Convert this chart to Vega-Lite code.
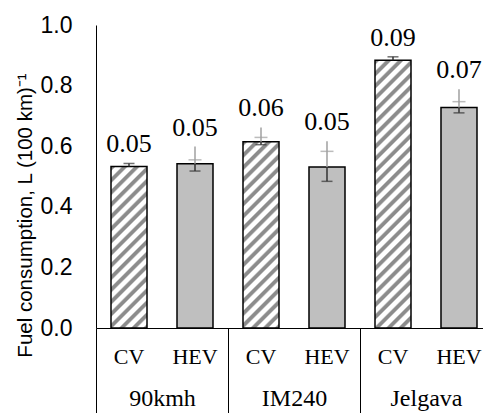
{
"$schema": "https://vega.github.io/schema/vega-lite/v6.json",
"autosize": "none",
"padding": {"left": 96, "top": 25, "right": 0, "bottom": 85},
"width": 387,
"height": 303,
"background": "white",
"config": {"view": {"stroke": null}, "mark": {"font": "Liberation Serif"}, "text": {"font": "Liberation Serif"}, "style": {"vlabel": {"font": "Liberation Serif", "fontSize": 26}}},
"data": {"values": [
{"group":"90kmh","type":"CV","key":"90kmh|CV","v":0.533,"blo":0.533,"bhi":0.543,"bcap":0.543,"top":0.543,"label":"0.05"},
{"group":"90kmh","type":"HEV","key":"90kmh|HEV","v":0.542,"blo":0.518,"bhi":0.542,"bcap":0.518,"glo":0.542,"ghi":0.599,"gcap":0.555,"top":0.599,"label":"0.05"},
{"group":"IM240","type":"CV","key":"IM240|CV","v":0.615,"blo":0.605,"bhi":0.615,"bcap":0.605,"glo":0.615,"ghi":0.662,"gcap":0.629,"top":0.662,"label":"0.06"},
{"group":"IM240","type":"HEV","key":"IM240|HEV","v":0.531,"blo":0.484,"bhi":0.531,"bcap":0.484,"glo":0.531,"ghi":0.616,"gcap":0.583,"top":0.616,"label":"0.05"},
{"group":"Jelgava","type":"CV","key":"Jelgava|CV","v":0.884,"blo":0.884,"bhi":0.895,"bcap":0.895,"top":0.895,"label":"0.09"},
{"group":"Jelgava","type":"HEV","key":"Jelgava|HEV","v":0.728,"blo":0.710,"bhi":0.728,"bcap":0.710,"glo":0.728,"ghi":0.788,"gcap":0.747,"top":0.788,"label":"0.07"}
]},
"encoding": {
  "y": {"field": "v", "type": "quantitative",
    "scale": {"domain": [0, 1], "nice": false, "zero": true},
    "axis": {"title": "Fuel consumption, L (100 km)⁻¹", "values": [0, 0.2, 0.4, 0.6, 0.8, 1.0], "format": ".1f",
      "grid": false, "ticks": false, "domain": true, "domainColor": "#000000", "domainWidth": 1,
      "labelFont": "Liberation Sans", "labelFontSize": 23, "labelColor": "#000000", "labelPadding": 24,
      "titleFont": "Liberation Sans", "titleFontSize": 20.5, "titleFontWeight": "normal", "titleColor": "#000000",
      "titleX": -65, "titleY": 190, "titleAngle": -90, "titleAnchor": "middle", "titleAlign": "center", "titleBaseline": "alphabetic"}}
},
"layer": [
  {
    "encoding": {
      "x": {"field": "key", "type": "nominal",
        "scale": {"domain": ["90kmh|CV","90kmh|HEV","IM240|CV","IM240|HEV","Jelgava|CV","Jelgava|HEV"], "range": [0, 396], "paddingInner": 0.4545, "paddingOuter": 0.2273},
        "axis": {"orient": "bottom", "title": null, "labelExpr": "split(datum.value, '|')[1]", "labelAngle": 0,
          "ticks": false, "domain": true, "domainColor": "#000000", "domainWidth": 1,
          "labelFont": "Liberation Serif", "labelFontSize": 22, "labelColor": "#000000", "labelPadding": 28, "labelBaseline": "middle"}}
    },
    "layer": [
      {"mark": {"type": "bar", "stroke": "#000000", "strokeWidth": 1.5},
       "encoding": {
         "y": {"field": "v", "type": "quantitative"},
         "fill": {"condition": [
           {"test": "datum.key === '90kmh|CV'", "value": {"gradient": "linear", "x1": 0, "y1": 0, "x2": 0.3997, "y2": 1.7933, "stops": [
{"offset":0,"color":"#8c8c8c"},{"offset":0.012,"color":"#8c8c8c"},{"offset":0.018,"color":"#ffffff"},{"offset":0.034,"color":"#ffffff"},
{"offset":0.04,"color":"#8c8c8c"},{"offset":0.052,"color":"#8c8c8c"},{"offset":0.058,"color":"#ffffff"},{"offset":0.074,"color":"#ffffff"},
{"offset":0.08,"color":"#8c8c8c"},{"offset":0.092,"color":"#8c8c8c"},{"offset":0.098,"color":"#ffffff"},{"offset":0.114,"color":"#ffffff"},
{"offset":0.12,"color":"#8c8c8c"},{"offset":0.132,"color":"#8c8c8c"},{"offset":0.138,"color":"#ffffff"},{"offset":0.154,"color":"#ffffff"},
{"offset":0.16,"color":"#8c8c8c"},{"offset":0.172,"color":"#8c8c8c"},{"offset":0.178,"color":"#ffffff"},{"offset":0.194,"color":"#ffffff"},
{"offset":0.2,"color":"#8c8c8c"},{"offset":0.212,"color":"#8c8c8c"},{"offset":0.218,"color":"#ffffff"},{"offset":0.234,"color":"#ffffff"},
{"offset":0.24,"color":"#8c8c8c"},{"offset":0.252,"color":"#8c8c8c"},{"offset":0.258,"color":"#ffffff"},{"offset":0.274,"color":"#ffffff"},
{"offset":0.28,"color":"#8c8c8c"},{"offset":0.292,"color":"#8c8c8c"},{"offset":0.298,"color":"#ffffff"},{"offset":0.314,"color":"#ffffff"},
{"offset":0.32,"color":"#8c8c8c"},{"offset":0.332,"color":"#8c8c8c"},{"offset":0.338,"color":"#ffffff"},{"offset":0.354,"color":"#ffffff"},
{"offset":0.36,"color":"#8c8c8c"},{"offset":0.372,"color":"#8c8c8c"},{"offset":0.378,"color":"#ffffff"},{"offset":0.394,"color":"#ffffff"},
{"offset":0.4,"color":"#8c8c8c"},{"offset":0.412,"color":"#8c8c8c"},{"offset":0.418,"color":"#ffffff"},{"offset":0.434,"color":"#ffffff"},
{"offset":0.44,"color":"#8c8c8c"},{"offset":0.452,"color":"#8c8c8c"},{"offset":0.458,"color":"#ffffff"},{"offset":0.474,"color":"#ffffff"},
{"offset":0.48,"color":"#8c8c8c"},{"offset":0.492,"color":"#8c8c8c"},{"offset":0.498,"color":"#ffffff"},{"offset":0.514,"color":"#ffffff"},
{"offset":0.52,"color":"#8c8c8c"},{"offset":0.532,"color":"#8c8c8c"},{"offset":0.538,"color":"#ffffff"},{"offset":0.554,"color":"#ffffff"},
{"offset":0.56,"color":"#8c8c8c"},{"offset":0.572,"color":"#8c8c8c"},{"offset":0.578,"color":"#ffffff"},{"offset":0.594,"color":"#ffffff"},
{"offset":0.6,"color":"#8c8c8c"},{"offset":0.612,"color":"#8c8c8c"},{"offset":0.618,"color":"#ffffff"},{"offset":0.634,"color":"#ffffff"},
{"offset":0.64,"color":"#8c8c8c"},{"offset":0.652,"color":"#8c8c8c"},{"offset":0.658,"color":"#ffffff"},{"offset":0.674,"color":"#ffffff"},
{"offset":0.68,"color":"#8c8c8c"},{"offset":0.692,"color":"#8c8c8c"},{"offset":0.698,"color":"#ffffff"},{"offset":0.714,"color":"#ffffff"},
{"offset":0.72,"color":"#8c8c8c"},{"offset":0.732,"color":"#8c8c8c"},{"offset":0.738,"color":"#ffffff"},{"offset":0.754,"color":"#ffffff"},
{"offset":0.76,"color":"#8c8c8c"},{"offset":0.772,"color":"#8c8c8c"},{"offset":0.778,"color":"#ffffff"},{"offset":0.794,"color":"#ffffff"},
{"offset":0.8,"color":"#8c8c8c"},{"offset":0.812,"color":"#8c8c8c"},{"offset":0.818,"color":"#ffffff"},{"offset":0.834,"color":"#ffffff"},
{"offset":0.84,"color":"#8c8c8c"},{"offset":0.852,"color":"#8c8c8c"},{"offset":0.858,"color":"#ffffff"},{"offset":0.874,"color":"#ffffff"},
{"offset":0.88,"color":"#8c8c8c"},{"offset":0.892,"color":"#8c8c8c"},{"offset":0.898,"color":"#ffffff"},{"offset":0.914,"color":"#ffffff"},
{"offset":0.92,"color":"#8c8c8c"},{"offset":0.932,"color":"#8c8c8c"},{"offset":0.938,"color":"#ffffff"},{"offset":0.954,"color":"#ffffff"},
{"offset":0.96,"color":"#8c8c8c"},{"offset":0.972,"color":"#8c8c8c"},{"offset":0.978,"color":"#ffffff"},{"offset":0.994,"color":"#ffffff"},
{"offset":1,"color":"#8c8c8c"}]}},
           {"test": "datum.key === 'IM240|CV'", "value": {"gradient": "linear", "x1": 0, "y1": 0, "x2": 0.3040, "y2": 1.5730, "stops": [
{"offset":0,"color":"#8c8c8c"},{"offset":0.012,"color":"#8c8c8c"},{"offset":0.018,"color":"#ffffff"},{"offset":0.034,"color":"#ffffff"},
{"offset":0.04,"color":"#8c8c8c"},{"offset":0.052,"color":"#8c8c8c"},{"offset":0.058,"color":"#ffffff"},{"offset":0.074,"color":"#ffffff"},
{"offset":0.08,"color":"#8c8c8c"},{"offset":0.092,"color":"#8c8c8c"},{"offset":0.098,"color":"#ffffff"},{"offset":0.114,"color":"#ffffff"},
{"offset":0.12,"color":"#8c8c8c"},{"offset":0.132,"color":"#8c8c8c"},{"offset":0.138,"color":"#ffffff"},{"offset":0.154,"color":"#ffffff"},
{"offset":0.16,"color":"#8c8c8c"},{"offset":0.172,"color":"#8c8c8c"},{"offset":0.178,"color":"#ffffff"},{"offset":0.194,"color":"#ffffff"},
{"offset":0.2,"color":"#8c8c8c"},{"offset":0.212,"color":"#8c8c8c"},{"offset":0.218,"color":"#ffffff"},{"offset":0.234,"color":"#ffffff"},
{"offset":0.24,"color":"#8c8c8c"},{"offset":0.252,"color":"#8c8c8c"},{"offset":0.258,"color":"#ffffff"},{"offset":0.274,"color":"#ffffff"},
{"offset":0.28,"color":"#8c8c8c"},{"offset":0.292,"color":"#8c8c8c"},{"offset":0.298,"color":"#ffffff"},{"offset":0.314,"color":"#ffffff"},
{"offset":0.32,"color":"#8c8c8c"},{"offset":0.332,"color":"#8c8c8c"},{"offset":0.338,"color":"#ffffff"},{"offset":0.354,"color":"#ffffff"},
{"offset":0.36,"color":"#8c8c8c"},{"offset":0.372,"color":"#8c8c8c"},{"offset":0.378,"color":"#ffffff"},{"offset":0.394,"color":"#ffffff"},
{"offset":0.4,"color":"#8c8c8c"},{"offset":0.412,"color":"#8c8c8c"},{"offset":0.418,"color":"#ffffff"},{"offset":0.434,"color":"#ffffff"},
{"offset":0.44,"color":"#8c8c8c"},{"offset":0.452,"color":"#8c8c8c"},{"offset":0.458,"color":"#ffffff"},{"offset":0.474,"color":"#ffffff"},
{"offset":0.48,"color":"#8c8c8c"},{"offset":0.492,"color":"#8c8c8c"},{"offset":0.498,"color":"#ffffff"},{"offset":0.514,"color":"#ffffff"},
{"offset":0.52,"color":"#8c8c8c"},{"offset":0.532,"color":"#8c8c8c"},{"offset":0.538,"color":"#ffffff"},{"offset":0.554,"color":"#ffffff"},
{"offset":0.56,"color":"#8c8c8c"},{"offset":0.572,"color":"#8c8c8c"},{"offset":0.578,"color":"#ffffff"},{"offset":0.594,"color":"#ffffff"},
{"offset":0.6,"color":"#8c8c8c"},{"offset":0.612,"color":"#8c8c8c"},{"offset":0.618,"color":"#ffffff"},{"offset":0.634,"color":"#ffffff"},
{"offset":0.64,"color":"#8c8c8c"},{"offset":0.652,"color":"#8c8c8c"},{"offset":0.658,"color":"#ffffff"},{"offset":0.674,"color":"#ffffff"},
{"offset":0.68,"color":"#8c8c8c"},{"offset":0.692,"color":"#8c8c8c"},{"offset":0.698,"color":"#ffffff"},{"offset":0.714,"color":"#ffffff"},
{"offset":0.72,"color":"#8c8c8c"},{"offset":0.732,"color":"#8c8c8c"},{"offset":0.738,"color":"#ffffff"},{"offset":0.754,"color":"#ffffff"},
{"offset":0.76,"color":"#8c8c8c"},{"offset":0.772,"color":"#8c8c8c"},{"offset":0.778,"color":"#ffffff"},{"offset":0.794,"color":"#ffffff"},
{"offset":0.8,"color":"#8c8c8c"},{"offset":0.812,"color":"#8c8c8c"},{"offset":0.818,"color":"#ffffff"},{"offset":0.834,"color":"#ffffff"},
{"offset":0.84,"color":"#8c8c8c"},{"offset":0.852,"color":"#8c8c8c"},{"offset":0.858,"color":"#ffffff"},{"offset":0.874,"color":"#ffffff"},
{"offset":0.88,"color":"#8c8c8c"},{"offset":0.892,"color":"#8c8c8c"},{"offset":0.898,"color":"#ffffff"},{"offset":0.914,"color":"#ffffff"},
{"offset":0.92,"color":"#8c8c8c"},{"offset":0.932,"color":"#8c8c8c"},{"offset":0.938,"color":"#ffffff"},{"offset":0.954,"color":"#ffffff"},
{"offset":0.96,"color":"#8c8c8c"},{"offset":0.972,"color":"#8c8c8c"},{"offset":0.978,"color":"#ffffff"},{"offset":0.994,"color":"#ffffff"},
{"offset":1,"color":"#8c8c8c"}]}},
           {"test": "datum.key === 'Jelgava|CV'", "value": {"gradient": "linear", "x1": 0, "y1": 0, "x2": 0.1498, "y2": 1.1146, "stops": [
{"offset":0,"color":"#8c8c8c"},{"offset":0.012,"color":"#8c8c8c"},{"offset":0.018,"color":"#ffffff"},{"offset":0.034,"color":"#ffffff"},
{"offset":0.04,"color":"#8c8c8c"},{"offset":0.052,"color":"#8c8c8c"},{"offset":0.058,"color":"#ffffff"},{"offset":0.074,"color":"#ffffff"},
{"offset":0.08,"color":"#8c8c8c"},{"offset":0.092,"color":"#8c8c8c"},{"offset":0.098,"color":"#ffffff"},{"offset":0.114,"color":"#ffffff"},
{"offset":0.12,"color":"#8c8c8c"},{"offset":0.132,"color":"#8c8c8c"},{"offset":0.138,"color":"#ffffff"},{"offset":0.154,"color":"#ffffff"},
{"offset":0.16,"color":"#8c8c8c"},{"offset":0.172,"color":"#8c8c8c"},{"offset":0.178,"color":"#ffffff"},{"offset":0.194,"color":"#ffffff"},
{"offset":0.2,"color":"#8c8c8c"},{"offset":0.212,"color":"#8c8c8c"},{"offset":0.218,"color":"#ffffff"},{"offset":0.234,"color":"#ffffff"},
{"offset":0.24,"color":"#8c8c8c"},{"offset":0.252,"color":"#8c8c8c"},{"offset":0.258,"color":"#ffffff"},{"offset":0.274,"color":"#ffffff"},
{"offset":0.28,"color":"#8c8c8c"},{"offset":0.292,"color":"#8c8c8c"},{"offset":0.298,"color":"#ffffff"},{"offset":0.314,"color":"#ffffff"},
{"offset":0.32,"color":"#8c8c8c"},{"offset":0.332,"color":"#8c8c8c"},{"offset":0.338,"color":"#ffffff"},{"offset":0.354,"color":"#ffffff"},
{"offset":0.36,"color":"#8c8c8c"},{"offset":0.372,"color":"#8c8c8c"},{"offset":0.378,"color":"#ffffff"},{"offset":0.394,"color":"#ffffff"},
{"offset":0.4,"color":"#8c8c8c"},{"offset":0.412,"color":"#8c8c8c"},{"offset":0.418,"color":"#ffffff"},{"offset":0.434,"color":"#ffffff"},
{"offset":0.44,"color":"#8c8c8c"},{"offset":0.452,"color":"#8c8c8c"},{"offset":0.458,"color":"#ffffff"},{"offset":0.474,"color":"#ffffff"},
{"offset":0.48,"color":"#8c8c8c"},{"offset":0.492,"color":"#8c8c8c"},{"offset":0.498,"color":"#ffffff"},{"offset":0.514,"color":"#ffffff"},
{"offset":0.52,"color":"#8c8c8c"},{"offset":0.532,"color":"#8c8c8c"},{"offset":0.538,"color":"#ffffff"},{"offset":0.554,"color":"#ffffff"},
{"offset":0.56,"color":"#8c8c8c"},{"offset":0.572,"color":"#8c8c8c"},{"offset":0.578,"color":"#ffffff"},{"offset":0.594,"color":"#ffffff"},
{"offset":0.6,"color":"#8c8c8c"},{"offset":0.612,"color":"#8c8c8c"},{"offset":0.618,"color":"#ffffff"},{"offset":0.634,"color":"#ffffff"},
{"offset":0.64,"color":"#8c8c8c"},{"offset":0.652,"color":"#8c8c8c"},{"offset":0.658,"color":"#ffffff"},{"offset":0.674,"color":"#ffffff"},
{"offset":0.68,"color":"#8c8c8c"},{"offset":0.692,"color":"#8c8c8c"},{"offset":0.698,"color":"#ffffff"},{"offset":0.714,"color":"#ffffff"},
{"offset":0.72,"color":"#8c8c8c"},{"offset":0.732,"color":"#8c8c8c"},{"offset":0.738,"color":"#ffffff"},{"offset":0.754,"color":"#ffffff"},
{"offset":0.76,"color":"#8c8c8c"},{"offset":0.772,"color":"#8c8c8c"},{"offset":0.778,"color":"#ffffff"},{"offset":0.794,"color":"#ffffff"},
{"offset":0.8,"color":"#8c8c8c"},{"offset":0.812,"color":"#8c8c8c"},{"offset":0.818,"color":"#ffffff"},{"offset":0.834,"color":"#ffffff"},
{"offset":0.84,"color":"#8c8c8c"},{"offset":0.852,"color":"#8c8c8c"},{"offset":0.858,"color":"#ffffff"},{"offset":0.874,"color":"#ffffff"},
{"offset":0.88,"color":"#8c8c8c"},{"offset":0.892,"color":"#8c8c8c"},{"offset":0.898,"color":"#ffffff"},{"offset":0.914,"color":"#ffffff"},
{"offset":0.92,"color":"#8c8c8c"},{"offset":0.932,"color":"#8c8c8c"},{"offset":0.938,"color":"#ffffff"},{"offset":0.954,"color":"#ffffff"},
{"offset":0.96,"color":"#8c8c8c"},{"offset":0.972,"color":"#8c8c8c"},{"offset":0.978,"color":"#ffffff"},{"offset":0.994,"color":"#ffffff"},
{"offset":1,"color":"#8c8c8c"}]}}
         ], "value": "#bfbfbf"}
       }},
      {"mark": {"type": "rule", "color": "#333333", "strokeWidth": 1.5},
       "encoding": {"y": {"field": "blo", "type": "quantitative"}, "y2": {"field": "bhi"}}},
      {"mark": {"type": "tick", "color": "#333333", "thickness": 1.5, "size": 11},
       "encoding": {"y": {"field": "bcap", "type": "quantitative"}}},
      {"mark": {"type": "rule", "color": "#a0a0a0", "strokeWidth": 1.5},
       "encoding": {"y": {"field": "glo", "type": "quantitative"}, "y2": {"field": "ghi"}}},
      {"mark": {"type": "tick", "color": "#a0a0a0", "thickness": 1.5, "size": 13},
       "encoding": {"y": {"field": "gcap", "type": "quantitative"}}},
      {"mark": {"type": "text", "style": "vlabel", "font": "Liberation Serif", "fontSize": 26, "fill": "#000000", "baseline": "alphabetic", "dy": -11},
       "encoding": {"y": {"field": "top", "type": "quantitative"}, "text": {"field": "label"}}}
    ]
  },
  {
    "mark": {"type": "point", "opacity": 0},
    "encoding": {
      "x": {"field": "group", "type": "nominal",
        "scale": {"domain": ["90kmh", "IM240", "Jelgava"], "range": [0, 396], "paddingInner": 0, "paddingOuter": 0},
        "axis": {"orient": "bottom", "title": null, "labelAngle": 0, "domain": false, "grid": false,
          "ticks": true, "tickBand": "extent", "tickSize": 85, "tickColor": "#000000", "tickWidth": 1,
          "labelFont": "Liberation Serif", "labelFontSize": 24, "labelColor": "#000000", "labelPadding": -15, "labelBaseline": "middle"}}
    }
  }
],
"resolve": {"scale": {"x": "independent"}, "axis": {"x": "independent"}}
}
